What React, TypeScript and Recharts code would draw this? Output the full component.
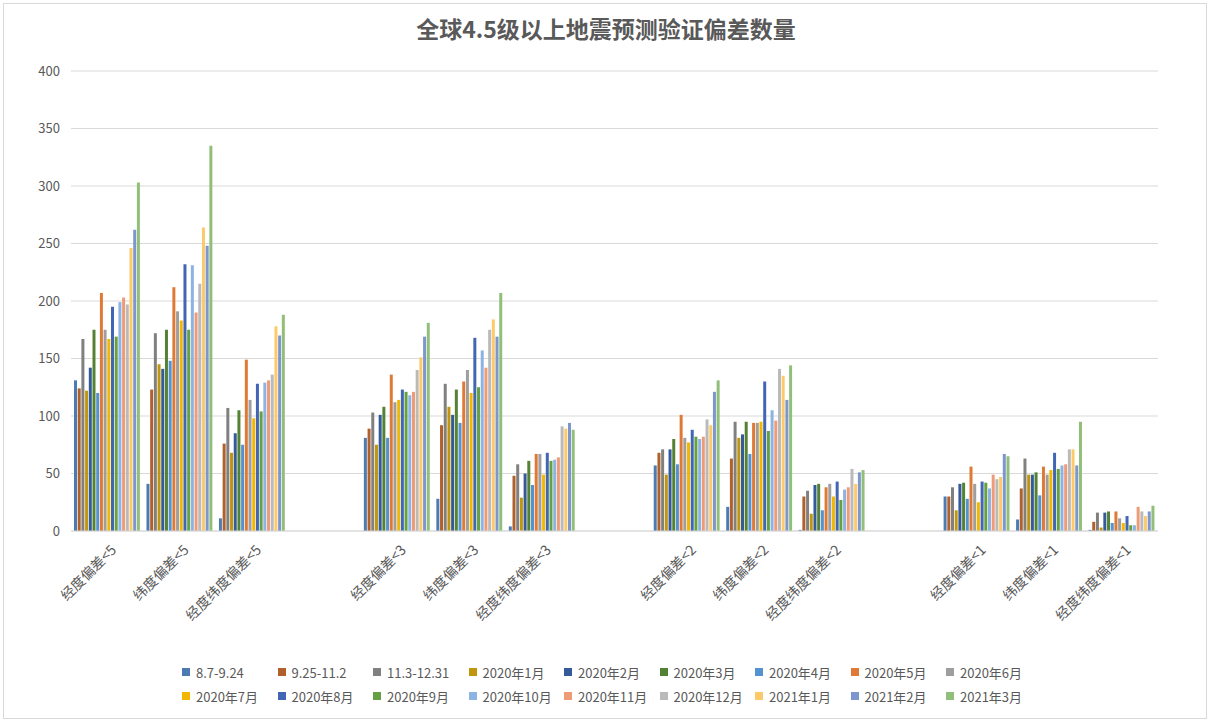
import React from 'react';
import { BarChart, Bar, XAxis, YAxis, CartesianGrid, Legend } from 'recharts';

// x axis categories; '' are the empty spacer columns between groups
const categories = [
  '经度偏差<5', '纬度偏差<5', '经度纬度偏差<5', '',
  '经度偏差<3', '纬度偏差<3', '经度纬度偏差<3', '',
  '经度偏差<2', '纬度偏差<2', '经度纬度偏差<2', '',
  '经度偏差<1', '纬度偏差<1', '经度纬度偏差<1',
];

const seriesNames = [
  '8.7-9.24', '9.25-11.2', '11.3-12.31', '2020年1月', '2020年2月', '2020年3月',
  '2020年4月', '2020年5月', '2020年6月', '2020年7月', '2020年8月', '2020年9月',
  '2020年10月', '2020年11月', '2020年12月', '2021年1月', '2021年2月', '2021年3月',
];

const seriesColors = [
  '#4B7BB1', '#B0612B', '#808080', '#C0960E', '#345A99', '#548235',
  '#5592CF', '#DF7A36', '#9E9E9E', '#F2B700', '#4266B4', '#65A042',
  '#8DB3E2', '#EE9B77', '#BABABA', '#FDCA6A', '#7D96CE', '#91BF7A',
];

// values per series, in the order of the non-empty categories
const p0807 = [131, 41, 11, 81, 28, 4, 57, 21, 1, 30, 10, 1];
const p0925 = [124, 123, 76, 89, 92, 48, 68, 63, 30, 30, 37, 8];
const p1103 = [167, 172, 107, 103, 128, 58, 71, 95, 35, 38, 63, 16];
const m2001 = [122, 145, 68, 75, 108, 29, 49, 81, 15, 18, 49, 3];
const m2002 = [142, 141, 85, 101, 101, 50, 71, 84, 40, 41, 49, 16];
const m2003 = [175, 175, 105, 108, 123, 61, 80, 95, 41, 42, 51, 17];
const m2004 = [120, 148, 75, 81, 94, 40, 58, 67, 18, 28, 31, 7];
const m2005 = [207, 212, 149, 136, 130, 67, 101, 94, 38, 56, 56, 17];
const m2006 = [175, 191, 114, 112, 140, 67, 81, 94, 41, 41, 49, 11];
const m2007 = [167, 183, 98, 114, 120, 49, 77, 95, 30, 25, 53, 7];
const m2008 = [195, 232, 128, 123, 168, 68, 88, 130, 43, 43, 68, 13];
const m2009 = [169, 175, 104, 121, 125, 61, 82, 87, 27, 42, 54, 5];
const m2010 = [199, 231, 129, 118, 157, 62, 80, 105, 36, 37, 57, 5];
const m2011 = [203, 190, 131, 121, 142, 64, 82, 96, 38, 49, 58, 21];
const m2012 = [197, 215, 136, 140, 175, 91, 97, 141, 54, 45, 71, 17];
const m2101 = [246, 264, 178, 151, 184, 89, 92, 135, 41, 47, 71, 13];
const m2102 = [262, 248, 170, 169, 169, 94, 121, 114, 51, 67, 57, 17];
const m2103 = [303, 335, 188, 181, 207, 88, 131, 144, 53, 65, 95, 22];

const seriesValues = [
  p0807, p0925, p1103, m2001, m2002, m2003, m2004, m2005, m2006,
  m2007, m2008, m2009, m2010, m2011, m2012, m2101, m2102, m2103,
];

const yTicks = [0, 50, 100, 150, 200, 250, 300, 350, 400];

let filled = 0;
const data = categories.map((name) => {
  const row: Record<string, string | number> = { name };
  if (name) {
    seriesValues.forEach((vals, i) => {
      row[`s${i}`] = vals[filled];
    });
    filled += 1;
  }
  return row;
});

const FONT = '"Noto Sans CJK SC", "Noto Sans", sans-serif';
const TEXT = '#595959';

const CategoryTick = (props: any) => {
  const { x, y, payload } = props;
  if (!payload.value) return <g />;
  return (
    <g transform={`translate(${x + 10},${y + 12})`}>
      <text textAnchor="end" transform="rotate(-45)" fill={TEXT} fontSize={14} fontFamily={FONT}>
        {payload.value}
      </text>
    </g>
  );
};

const LegendBox = () => (
  <div
    style={{
      display: 'grid',
      gridTemplateColumns: 'repeat(9, 95.5px)',
      rowGap: 6,
      fontFamily: FONT,
      fontSize: 13,
      color: TEXT,
    }}
  >
    {seriesNames.map((n, i) => (
      <div key={n} style={{ display: 'flex', alignItems: 'center', height: 18 }}>
        <span style={{ width: 8, height: 8, background: seriesColors[i], marginRight: 6 }} />
        <span>{n}</span>
      </div>
    ))}
  </div>
);

export default function App() {
  return (
    <div style={{ position: 'absolute', left: 0, top: 0, width: 1212, height: 722, background: '#fff', fontFamily: FONT }}>
      <div
        style={{
          position: 'absolute', left: 3, top: 3, width: 1204, height: 716,
          border: '1px solid #D9D9D9', boxSizing: 'border-box',
        }}
      />
      <div
        style={{
          position: 'absolute', left: 0, top: 17, width: 1212, textAlign: 'center',
          fontSize: 23, lineHeight: '23px', fontWeight: 700, color: TEXT,
        }}
      >
        全球4.5级以上地震预测验证偏差数量
      </div>
      <BarChart
        width={1212}
        height={722}
        data={data}
        margin={{ top: 71, right: 54, left: 31, bottom: 161 }}
        barCategoryGap={3}
        barGap={0.7}
      >
        <CartesianGrid vertical={false} stroke="#D9D9D9" />
        <XAxis
          dataKey="name"
          interval={0}
          tickLine={false}
          axisLine={{ stroke: '#D9D9D9' }}
          tick={<CategoryTick />}
          height={30}
        />
        <YAxis
          domain={[0, 400]}
          ticks={yTicks}
          axisLine={false}
          tickLine={false}
          width={40}
          tickMargin={5}
          tick={{ fill: TEXT, fontSize: 13, fontFamily: FONT }}
        />
        <Legend
          verticalAlign="middle"
          align="center"
          wrapperStyle={{ top: 663, left: 182, width: 870 }}
          content={() => <LegendBox />}
        />
        {seriesNames.map((n, i) => (
          <Bar key={n} dataKey={`s${i}`} name={n} fill={seriesColors[i]} isAnimationActive={false} />
        ))}
      </BarChart>
    </div>
  );
}
